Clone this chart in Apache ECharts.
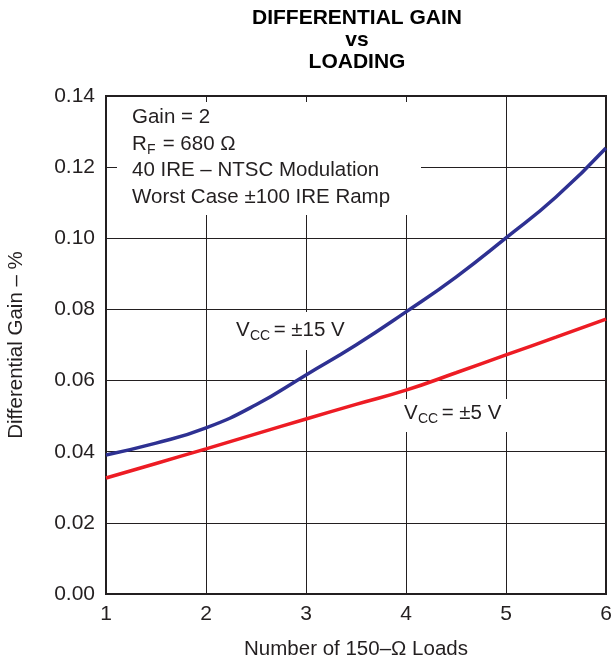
<!DOCTYPE html>
<html>
<head>
<meta charset="utf-8">
<script src="https://cdn.jsdelivr.net/npm/echarts@6/dist/echarts.min.js"></script>
<style>
  html, body { margin: 0; padding: 0; background: #fff; }
  #chart { width: 612px; height: 664px; }
</style>
</head>
<body>
<div id="chart"></div>
<script>
// number of 150-ohm loads
const loads = [1, 1.5, 2, 2.5, 3, 3.5, 4, 4.5, 5, 5.5, 6]
// differential gain (%)
const gain15V = [0.0391, 0.0424, 0.0467, 0.0532, 0.0616, 0.0700, 0.0793, 0.0891, 0.1001, 0.1116, 0.1254]
const gain5V = [0.0326, 0.0367, 0.0408, 0.0450, 0.0492, 0.0533, 0.0573, 0.0622, 0.0672, 0.0722, 0.0773]
const xTicks = [1, 2, 3, 4, 5, 6]
const yTicks = [0, 0.02, 0.04, 0.06, 0.08, 0.10, 0.12, 0.14]

const font = 'Liberation Sans, Arial, Helvetica, sans-serif'
const chart = echarts.init(document.getElementById('chart'))

const pair = (xs, ys) => xs.map((x, i) => [x, ys[i]])

// white boxes behind the notes, then the text itself
const box = (x, y, w, h) => ({
  type: 'rect', z: 1, silent: true,
  shape: { x: x, y: y, width: w, height: h },
  style: { fill: '#fff' }
})
const txt = (x, y, s, size) => ({
  type: 'text', z: 3, silent: true, x: x, y: y,
  style: { text: s, font: (size || 20.5) + 'px ' + font, fill: '#231f20', textVerticalAlign: 'middle' }
})

const option = {
  backgroundColor: '#fff',
  animation: false,
  title: {
    text: 'DIFFERENTIAL GAIN\nvs\nLOADING',
    left: 352, top: 2, textAlign: 'center',
    textStyle: { fontFamily: font, fontSize: 21, fontWeight: 'bold', color: '#000', lineHeight: 22 }
  },
  grid: {
    left: 106, right: 6, top: 96, bottom: 70,
    outerBoundsMode: 'none',
    show: true, borderColor: '#231f20', borderWidth: 2
  },
  xAxis: {
    type: 'value', min: 1, max: 6, interval: 1,
    name: 'Number of 150\u2013\u03a9 Loads',
    nameLocation: 'middle', nameGap: 45,
    nameTextStyle: { fontFamily: font, fontSize: 20.5, color: '#231f20' },
    axisLine: { show: false },
    axisTick: { show: false },
    axisLabel: { fontFamily: font, fontSize: 21, color: '#231f20', margin: 10,
      customValues: xTicks },
    splitLine: { show: true, lineStyle: { color: '#231f20', width: 1 } }
  },
  yAxis: {
    type: 'value', min: 0, max: 0.14, interval: 0.02,
    name: 'Differential Gain \u2013 %',
    nameLocation: 'middle', nameGap: 79,
    nameTextStyle: { fontFamily: font, fontSize: 20.5, color: '#231f20' },
    axisLine: { show: false },
    axisTick: { show: false },
    axisLabel: { fontFamily: font, fontSize: 21, color: '#231f20', margin: 11,
      customValues: yTicks, formatter: v => v.toFixed(2) },
    splitLine: { show: true, lineStyle: { color: '#231f20', width: 1 } }
  },
  series: [
    {
      name: 'VCC = ±15 V', type: 'line', smooth: true, symbol: 'none', z: 2,
      data: pair(loads, gain15V),
      lineStyle: { color: '#2e3192', width: 3.5 }
    },
    {
      name: 'VCC = ±5 V', type: 'line', smooth: true, symbol: 'none', z: 2,
      data: pair(loads, gain5V),
      lineStyle: { color: '#ed1c24', width: 3.5 }
    }
  ],
  graphic: [
    box(117, 102, 304, 113),
    box(231, 312, 124, 38),
    box(399, 399, 113, 33),
    txt(132, 117, 'Gain = 2'),
    txt(132, 144, 'R'),
    txt(147, 150, 'F', 14),
    txt(157, 144, ' = 680 \u03a9'),
    txt(132, 170, '40 IRE \u2013 NTSC Modulation'),
    txt(132, 197, 'Worst Case \u00b1100 IRE Ramp'),
    txt(236, 330, 'V'),
    txt(250, 336, 'CC', 14),
    txt(268, 330, ' = \u00b115 V'),
    txt(404, 413, 'V'),
    txt(418, 419, 'CC', 14),
    txt(436, 413, ' = \u00b15 V')
  ]
}
chart.setOption(option)
</script>
</body>
</html>
